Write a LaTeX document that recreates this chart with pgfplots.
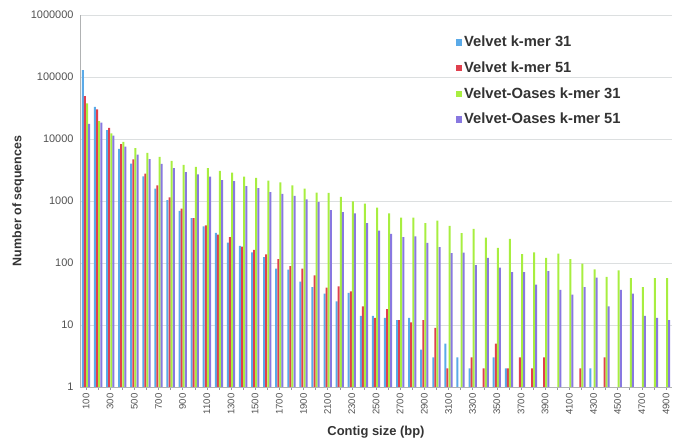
\documentclass[border=0pt]{standalone}
\usepackage{pgfplots}
\usepackage{pgfplotstable}
\usepackage{fontspec}
\setmainfont{Liberation Sans}
\usetikzlibrary{calc}
\pgfplotsset{compat=1.18}
\definecolor{cblue}{HTML}{5AAAE8}
\definecolor{cred}{HTML}{E0404E}
\definecolor{cgreen}{HTML}{A8EE40}
\definecolor{cpurple}{HTML}{8878E0}
\definecolor{gridc}{HTML}{DCDFE0}
\definecolor{txt}{HTML}{333333}
\pgfplotstableread{
idx cat blue red green purple
0 100 129000 49000 37500 17500
1 200 33000 30000 19500 18300
2 300 13900 15100 12300 11300
3 400 6900 8300 9000 7500
4 500 4000 4700 7100 5600
5 600 2500 2770 6000 4730
6 700 1590 1780 5150 3980
7 800 1030 1140 4450 3390
8 900 695 750 3830 2920
9 1000 530 530 3550 2700
10 1100 390 405 3390 2480
11 1200 306 288 3070 2170
12 1300 214 261 2880 2090
13 1400 189 184 2480 1740
14 1500 148 163 2370 1610
15 1600 124 138 2140 1390
16 1700 81 116 1990 1300
17 1800 78 89 1780 1210
18 1900 50 81 1590 1060
19 2000 41 63 1370 960
20 2100 32 40 1350 710
21 2200 24 42 1170 660
22 2300 33 35 990 630
23 2400 14 20 910 440
24 2500 14 13 785 334
25 2600 13 18 630 295
26 2700 12 12 540 261
27 2800 13 11 540 268
28 2900 4 12 440 211
29 3000 3 9 484 180
30 3100 5 2 398 144
31 3200 3 nan 302 147
32 3300 2 3 355 92
33 3400 nan 2 257 121
34 3500 3 5 175 84
35 3600 2 2 245 71
36 3700 nan 3 139 71
37 3800 nan 2 149 45
38 3900 nan 3 121 74
39 4000 nan nan 142 37
40 4100 nan nan 116 31
41 4200 nan 2 98 41
42 4300 2 nan 79 58
43 4400 nan 3 60 20
44 4500 nan nan 76 37
45 4600 nan nan 57 32
46 4700 nan nan 41 14
47 4800 nan nan 57 13
48 4900 nan nan 57 12
}\datatable
\begin{document}
\begin{tikzpicture}
\begin{axis}[
  scale only axis,
  width=592bp, height=372bp,
  ymode=log,
  ymin=1, ymax=1000000,
  xmin=-0.5, xmax=48.5,
  ybar=0.1bp,
  bar width=2bp,
  xtick={0,2,...,48},
  xticklabels={100,300,500,700,900,1100,1300,1500,1700,1900,2100,2300,2500,2700,2900,3100,3300,3500,3700,3900,4100,4300,4500,4700,4900},
  minor xtick={1,3,...,47},
  ytick={1,10,100,1000,10000,100000,1000000},
  yticklabels={1,10,100,1000,10000,100000,1000000},
  ymajorgrids,
  grid style={gridc, line width=0.8pt},
  major y tick style={draw=none},
  minor y tick style={draw=none},
  major x tick style={gridc!70!black, line width=0.5pt},
  minor x tick style={gridc!70!black, line width=0.5pt},
  tick align=outside,
  xtick pos=bottom,
  major tick length=3bp,
  minor tick length=3bp,
  axis x line*=bottom,
  axis y line*=left,
  x axis line style={gridc!80!black, line width=0.6pt, -},
  y axis line style={gridc!80!black, line width=0.6pt, -},
  xticklabel style={rotate=90, anchor=east, font=\fontsize{9.6}{11}\selectfont, text=txt!85},
  yticklabel style={font=\fontsize{11}{12}\selectfont, text=txt!85},
  xlabel={\textbf{Contig size (bp)}},
  ylabel={\textbf{Number of sequences}},
  xlabel style={font=\fontsize{13}{14}\selectfont, text=txt, yshift=-4bp},
  ylabel style={font=\fontsize{12.5}{14}\selectfont, text=txt, yshift=0bp},
  legend style={at={(0.629,0.954)}, anchor=north west, draw=none, fill=none,
    font=\bfseries\fontsize{14.8}{16}\selectfont, text=txt, row sep=9.5bp},
  legend cell align=left,
  legend image code/.code={\fill[#1] (0bp,-3.2bp) rectangle (6.5bp,3.2bp);},
]
\addplot[fill=cblue, draw=none] table[x=idx, y=blue] {\datatable};
\addplot[fill=cred, draw=none] table[x=idx, y=red] {\datatable};
\addplot[fill=cgreen, draw=none] table[x=idx, y=green] {\datatable};
\addplot[fill=cpurple, draw=none] table[x=idx, y=purple] {\datatable};
\legend{Velvet k-mer 31, Velvet k-mer 51, Velvet-Oases k-mer 31, Velvet-Oases k-mer 51}
\coordinate (ll) at (rel axis cs:0,0);
\coordinate (ur) at (rel axis cs:1,1);
\end{axis}
\pgfresetboundingbox
\path ($(ll)+(-80bp,-61bp)$) rectangle ($(ur)+(7bp,15bp)$);
\end{tikzpicture}
\end{document}
